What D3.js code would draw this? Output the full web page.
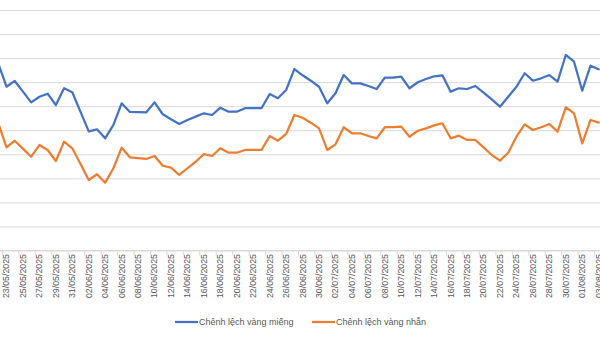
<!DOCTYPE html>
<html>
<head>
<meta charset="utf-8">
<script src="https://cdn.jsdelivr.net/npm/d3@7/dist/d3.min.js"></script>
<style>
  html, body { margin: 0; padding: 0; background: #fff; overflow: hidden; }
  svg { display: block; font-family: "Liberation Sans", Arial, sans-serif; }
</style>
</head>
<body>
<svg id="chart" width="600" height="337"></svg>
<script>
// Daily dates (dd/mm/yyyy)
const dates = [
  "22/05/2025","23/05/2025","24/05/2025","25/05/2025","26/05/2025","27/05/2025","28/05/2025","29/05/2025","30/05/2025","31/05/2025",
  "01/06/2025","02/06/2025","03/06/2025","04/06/2025","05/06/2025","06/06/2025","07/06/2025","08/06/2025","09/06/2025","10/06/2025",
  "11/06/2025","12/06/2025","13/06/2025","14/06/2025","15/06/2025","16/06/2025","17/06/2025","18/06/2025","19/06/2025","20/06/2025",
  "21/06/2025","22/06/2025","23/06/2025","24/06/2025","25/06/2025","26/06/2025","27/06/2025","28/06/2025","29/06/2025","30/06/2025",
  "01/07/2025","02/07/2025","03/07/2025","04/07/2025","05/07/2025","06/07/2025","07/07/2025","08/07/2025","09/07/2025","10/07/2025",
  "11/07/2025","12/07/2025","13/07/2025","14/07/2025","15/07/2025","16/07/2025","17/07/2025","18/07/2025","19/07/2025","20/07/2025",
  "21/07/2025","22/07/2025","23/07/2025","24/07/2025","25/07/2025","26/07/2025","27/07/2025","28/07/2025","29/07/2025","30/07/2025",
  "31/07/2025","01/08/2025","02/08/2025","03/08/2025"
];

// Spread of gold bars vs. world price (million VND / tael)
const goldBarSpread = [
  15.55, 13.62, 14.10, 13.21, 12.32, 12.79, 13.04, 12.10, 13.49, 13.16,
  11.53,  9.91, 10.08,  9.33, 10.44, 12.24, 11.52, 11.50, 11.49, 12.32,
  11.33, 10.91, 10.52, 10.85, 11.13, 11.41, 11.27, 11.88, 11.54, 11.54,
  11.83, 11.83, 11.83, 13.01, 12.66, 13.35, 15.09, 14.57, 14.12, 13.62,
  12.24, 13.07, 14.59, 13.90, 13.90, 13.68, 13.43, 14.37, 14.37, 14.45,
  13.49, 13.99, 14.26, 14.49, 14.57, 13.21, 13.49, 13.43, 13.68, 13.12,
  12.57, 11.96, 12.79, 13.62, 14.74, 14.12, 14.32, 14.59, 14.04, 16.26,
  15.70, 13.29, 15.37, 15.07
];

// Spread of gold rings vs. world price (million VND / tael)
const goldRingSpread = [
  10.58,  8.58,  9.13,  8.47,  7.80,  8.77,  8.36,  7.44,  9.05,  8.50,
   7.19,  5.86,  6.34,  5.64,  6.84,  8.55,  7.75,  7.69,  7.61,  7.86,
   7.05,  6.89,  6.28,  6.84,  7.38,  8.02,  7.86,  8.50,  8.13,  8.13,
   8.36,  8.36,  8.36,  9.52,  9.13,  9.69, 11.27, 11.04, 10.63, 10.16,
   8.36,  8.83, 10.25,  9.75,  9.75,  9.52,  9.33, 10.25, 10.25, 10.30,
   9.46,  9.96, 10.16, 10.41, 10.58,  9.33,  9.55,  9.19,  9.19,  8.58,
   7.94,  7.47,  8.13,  9.46, 10.49, 10.02, 10.25, 10.52,  9.88, 11.91,
  11.41,  8.91, 10.85, 10.63
];

// Every second date is labelled on the axis
const tickDates = dates.filter((d, i) => i % 2 === 1);

const seriesNames = ["Chênh lệch vàng miếng", "Chênh lệch vàng nhẫn"];
const seriesColors = ["#4472C4", "#ED7D31"];
const yTicks = d3.range(0, 24, 2);

const svg = d3.select("#chart");

// Plot area runs past the visible frame on both sides
const x = d3.scaleBand()
  .domain(dates)
  .range([-5.84, -5.84 + 8.225 * dates.length])
  .paddingInner(0).paddingOuter(0);
const cx = d => x(d) + x.bandwidth() / 2;

const y = d3.scaleLinear().domain([0, 22]).range([250.5, 250.5 - 11 * 24.05]);

// Horizontal gridlines
svg.append("g")
  .attr("transform", "translate(-10,0)")
  .call(d3.axisLeft(y).tickValues(yTicks).tickSize(-640).tickFormat(""))
  .call(g => g.select(".domain").remove())
  .call(g => g.selectAll("line").attr("stroke", "#d9d9d9").attr("stroke-width", 1));

// Category axis with rotated date labels
const xAxis = svg.append("g")
  .attr("transform", "translate(0,250.5)")
  .call(d3.axisBottom(x).tickValues(tickDates).tickSize(0).tickPadding(0));
xAxis.select(".domain").remove();
xAxis.append("line")
  .attr("x1", -10).attr("x2", 610)
  .attr("stroke", "#d9d9d9").attr("stroke-width", 1);
xAxis.selectAll(".tick text")
  .attr("transform", "rotate(-90)")
  .attr("text-anchor", "end")
  .attr("x", -3.5)
  .attr("y", 0)
  .attr("dy", "0.33em")
  .attr("fill", "#595959")
  .style("font-size", "8.8px");
// Tick marks sit on category boundaries
xAxis.selectAll(".boundary")
  .data(tickDates)
  .join("line")
  .attr("class", "boundary")
  .attr("x1", d => x(d)).attr("x2", d => x(d))
  .attr("y1", 0).attr("y2", 5)
  .attr("stroke", "#d9d9d9").attr("stroke-width", 1);

// Series lines
const line = d3.line()
  .x((v, i) => cx(dates[i]))
  .y(v => y(v));

[goldBarSpread, goldRingSpread].forEach((vals, k) => {
  svg.append("path")
    .datum(vals)
    .attr("fill", "none")
    .attr("stroke", seriesColors[k])
    .attr("stroke-width", 2.25)
    .attr("stroke-linejoin", "round")
    .attr("stroke-linecap", "round")
    .attr("d", line);
});

// Legend
const legendPos = [175, 312];
const legend = svg.append("g").attr("transform", "translate(0,322)");
seriesNames.forEach((name, k) => {
  const g = legend.append("g").attr("transform", `translate(${legendPos[k]},0)`);
  g.append("line")
    .attr("x1", 0).attr("x2", 23)
    .attr("stroke", seriesColors[k]).attr("stroke-width", 2.25);
  g.append("text")
    .attr("x", 24).attr("dy", "0.35em")
    .attr("fill", "#595959")
    .style("font-size", "9px")
    .text(name);
});
</script>
</body>
</html>
